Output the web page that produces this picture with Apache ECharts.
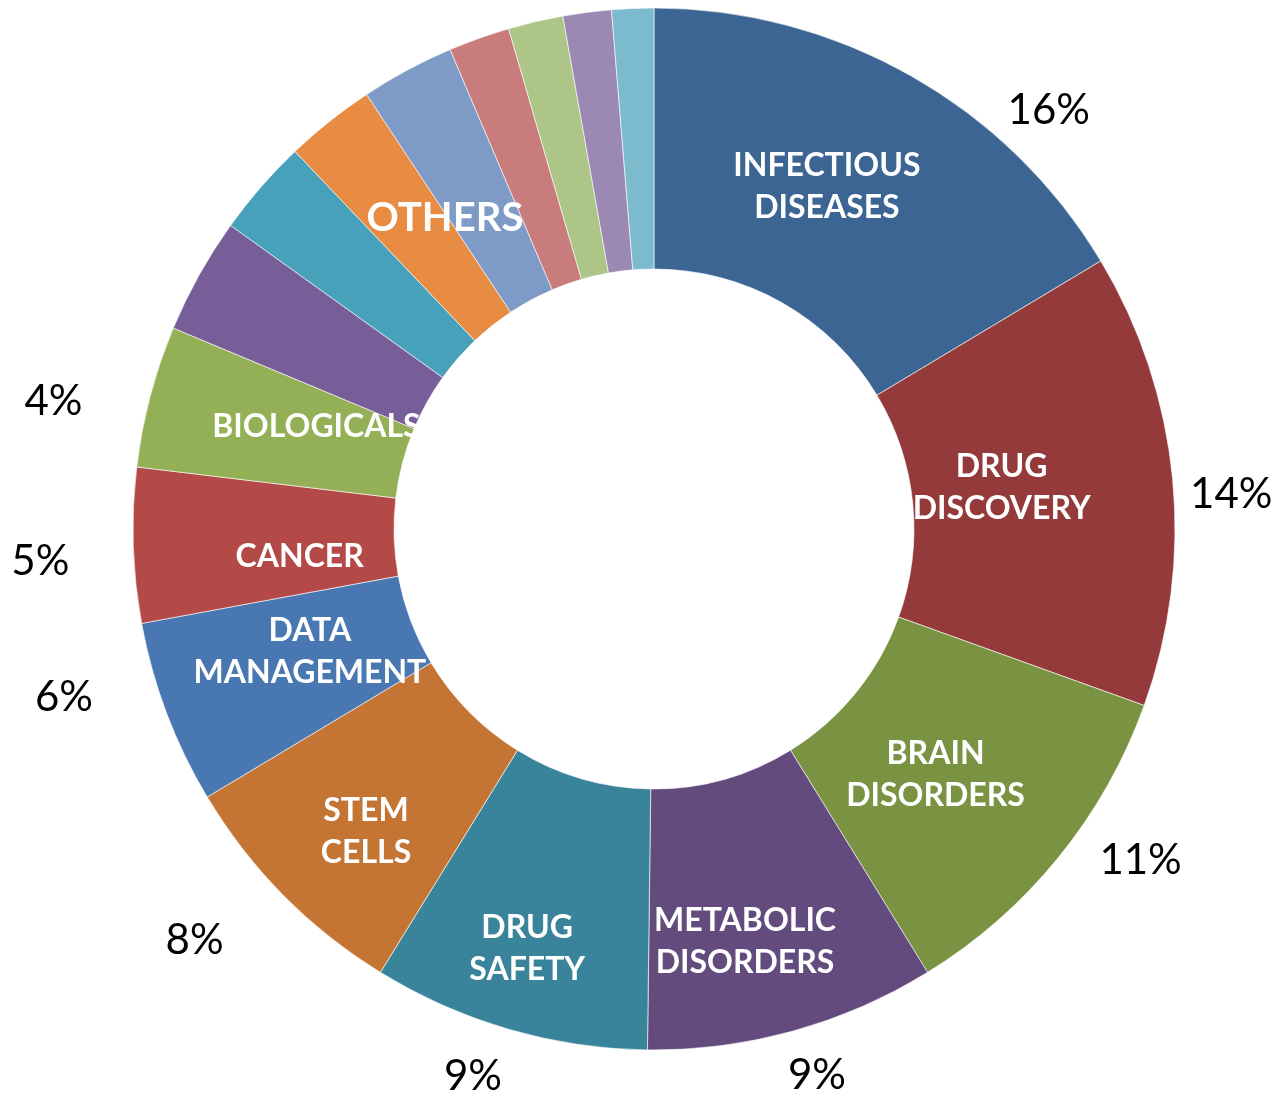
<!DOCTYPE html>
<html>
<head>
<meta charset="utf-8">
<script src="https://cdn.jsdelivr.net/npm/echarts@6/dist/echarts.min.js"></script>
<style>
  html, body { margin: 0; padding: 0; background: #fff; }
  #chart { width: 1279px; height: 1094px; }
</style>
</head>
<body>
<div id="chart"></div>
<script>
  // slices, clockwise from 12 o'clock
  const categories = [
    'INFECTIOUS\nDISEASES', 'DRUG\nDISCOVERY', 'BRAIN\nDISORDERS', 'METABOLIC\nDISORDERS',
    'DRUG\nSAFETY', 'STEM\nCELLS', 'DATA\nMANAGEMENT', 'CANCER', 'BIOLOGICALS',
    'OTHER 1', 'OTHER 2', 'OTHER 3', 'OTHER 4', 'OTHER 5', 'OTHER 6', 'OTHER 7', 'OTHER 8'
  ];
  const shares = [16.4, 14.1, 10.7, 9.0, 8.6, 7.6, 5.7, 4.8, 4.4, 3.6, 3.0, 2.8, 2.9, 1.9, 1.7, 1.5, 1.3];
  const colors = [
    '#3c6594', '#953a3a', '#7a9343', '#634c7d', '#39849a', '#c47534', '#4877b1', '#b44a48', '#93b056',
    '#785e99', '#47a1ba', '#e88c43', '#7e9ac7', '#c97c7c', '#adc586', '#9b89b4', '#7cbace'
  ];
  const namedCount = 9;      // slices that carry their own name and percent
  const othersLabelAt = 11;  // the "OTHERS" caption sits on this slice

  // nudges so labels land where the original (Excel) put them
  const nameNudge = [[-21, 0], [-44, -3], [-24, -2], [-14, 33], [-17, 42], [-8, 26], [24, -16], [39, 15], [43, -2]];
  const pctNudge = [[105, 93], [-8, 23], [30, -39], [6, -20], [-17, -17], [-41, -2], [-40, -39], [-26, 14], [-32, 22]];

  const center = [654, 529];

  const chart = echarts.init(document.getElementById('chart'));

  const innerData = categories.map((name, i) => {
    let label;
    if (i < namedCount) label = { formatter: name, offset: nameNudge[i] };
    else if (i === othersLabelAt) label = { formatter: 'OTHERS', fontSize: 40, offset: [36, -3] };
    else label = { show: false };
    return { name, value: shares[i], itemStyle: { color: colors[i] }, label };
  });

  const outerData = categories.map((name, i) => ({
    name,
    value: shares[i],
    label: i < namedCount ? { offset: pctNudge[i] } : { show: false }
  }));

  chart.setOption({
    animation: false,
    series: [
      {
        type: 'pie',
        center: center,
        radius: [260, 521],
        startAngle: 90,
        clockwise: true,
        silent: true,
        itemStyle: { borderColor: 'rgba(255,255,255,0.6)', borderWidth: 1 },
        label: {
          position: 'inside',
          color: '#fff',
          fontFamily: 'Lato',
          fontWeight: 'bold',
          fontSize: 32,
          lineHeight: 42,
          align: 'center'
        },
        labelLine: { show: false },
        data: innerData
      },
      {
        type: 'pie',
        center: center,
        radius: [530, 640],
        startAngle: 90,
        clockwise: true,
        silent: true,
        itemStyle: { color: 'transparent' },
        label: {
          position: 'inside',
          color: '#000',
          fontFamily: 'Lato',
          fontSize: 42,
          formatter: (p) => Math.round(p.value) + '%'
        },
        labelLine: { show: false },
        data: outerData
      }
    ]
  });
</script>
</body>
</html>
